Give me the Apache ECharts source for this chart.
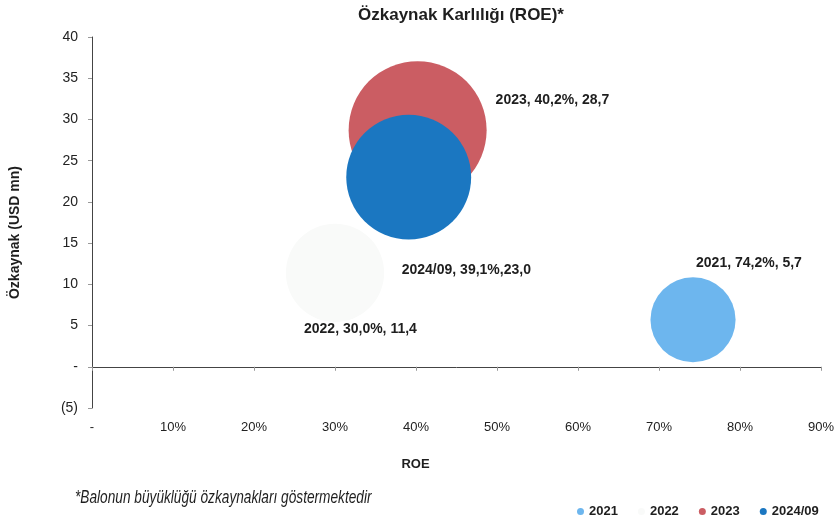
<!DOCTYPE html>
<html>
<head>
<meta charset="utf-8">
<script src="https://cdn.jsdelivr.net/npm/echarts@6/dist/echarts.min.js"></script>
<style>
  html, body { margin: 0; padding: 0; background: #fff; }
  #chart { width: 838px; height: 524px; }
</style>
</head>
<body>
<div id="chart"></div>
<script>
// veriler
const years = ['2021', '2022', '2023', '2024/09'];
const roe = [74.2, 30.0, 40.2, 39.1];
const equity = [5.7, 11.4, 28.7, 23.0];
const pointLabels = ['2021, 74,2%, 5,7', '2022, 30,0%, 11,4', '2023, 40,2%, 28,7', '2024/09, 39,1%,23,0'];

// stil
const colors = ['#6db6ee', '#f9faf9', '#cb5d63', '#1b77c1'];
const labelOffsets = [[3, -57], [-31, 56], [78, -30], [-7, 93]];
const FONT = "'Liberation Sans', Arial, sans-serif";

const chart = echarts.init(document.getElementById('chart'));

const xLabel = v => (v === 0 ? '-' : v + '%');
const yLabel = v => (v === 0 ? '-' : v < 0 ? '(' + (-v) + ')' : String(v));

const series = years.map((y, i) => ({
  name: y,
  type: 'scatter',
  xAxisIndex: 0,
  data: [[roe[i], equity[i]]],
  symbolSize: d => 72 + 2.3 * d[1],
  itemStyle: { color: colors[i], opacity: 1 },
  label: {
    show: true,
    position: 'inside',
    align: 'left',
    offset: labelOffsets[i],
    formatter: () => pointLabels[i],
    color: '#1e1e1e',
    fontFamily: FONT,
    fontWeight: 'bold',
    fontSize: 14,
    textBorderWidth: 0
  },
  emphasis: { disabled: true }
}));

chart.setOption({
  animation: false,
  textStyle: { fontFamily: FONT },
  title: {
    text: 'Özkaynak Karlılığı (ROE)*',
    left: 456,
    textAlign: 'center',
    top: 2,
    textStyle: { fontFamily: FONT, fontWeight: 'bold', fontSize: 17, color: '#1e1e1e' }
  },
  legend: {
    data: years,
    left: 572,
    top: 500,
    icon: 'circle',
    itemWidth: 7,
    itemHeight: 7,
    itemGap: 20,
    textStyle: { fontFamily: FONT, fontWeight: 'bold', fontSize: 13, color: '#1e1e1e' }
  },
  grid: { left: 92, right: 17, top: 37, bottom: 116, containLabel: false, outerBoundsMode: 'none' },
  xAxis: [
    {
      type: 'value',
      min: 0, max: 90, interval: 10,
      position: 'bottom',
      axisLine: { show: false, onZero: false },
      axisTick: { show: false },
      splitLine: { show: false },
      axisLabel: { formatter: xLabel, margin: 13, color: '#222', fontSize: 13, fontFamily: FONT },
      name: 'ROE',
      nameLocation: 'middle',
      nameGap: 50,
      nameTextStyle: { fontFamily: FONT, fontWeight: 'bold', fontSize: 13, color: '#1e1e1e', padding: [0, 82, 0, 0] }
    },
    {
      type: 'value',
      min: 0, max: 90, interval: 10,
      position: 'bottom',
      axisLine: { show: true, onZero: true, lineStyle: { color: '#444', width: 1 } },
      axisTick: { show: true, length: 4, lineStyle: { color: '#999' } },
      splitLine: { show: false },
      axisLabel: { show: false }
    }
  ],
  yAxis: {
    type: 'value',
    min: -5, max: 40, interval: 5,
    axisLine: { show: true, lineStyle: { color: '#444', width: 1 } },
    axisTick: { show: true, length: 4, lineStyle: { color: '#999' } },
    splitLine: { show: false },
    axisLabel: { formatter: yLabel, margin: 14, color: '#222', fontSize: 14, fontFamily: FONT },
    name: 'Özkaynak (USD mn)',
    nameLocation: 'middle',
    nameGap: 70,
    nameTextStyle: { fontFamily: FONT, fontWeight: 'bold', fontSize: 14, color: '#1e1e1e', padding: [0, 20, 0, 0] }
  },
  graphic: [
    {
      type: 'text',
      x: 75,
      y: 488,
      scaleX: 0.72,
      style: {
        text: '*Balonun büyüklüğü özkaynakları göstermektedir',
        fontFamily: FONT,
        fontStyle: 'italic',
        fontSize: 19,
        fill: '#1e1e1e'
      }
    }
  ],
  series: series
});
</script>
</body>
</html>
